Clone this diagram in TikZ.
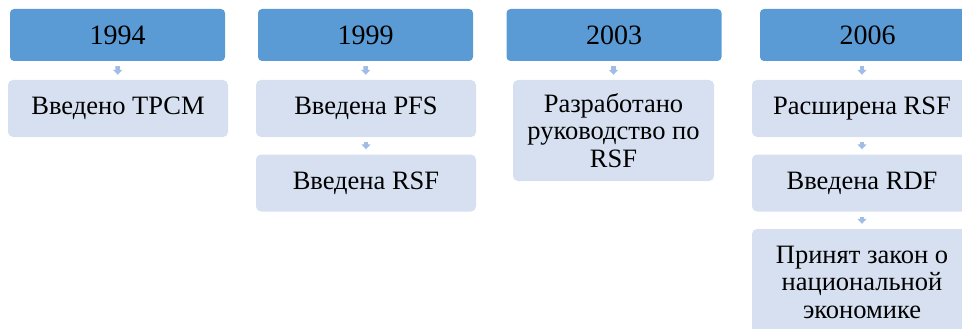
\documentclass[tikz,border=0pt]{standalone}
\usepackage{fontspec}
\setmainfont{Liberation Serif}
\usetikzlibrary{arrows.meta,calc}
\definecolor{yearblue}{HTML}{5B9BD5}
\definecolor{itemblue}{HTML}{D6E0F0}
\definecolor{tipblue}{HTML}{9FBDE6}
\tikzset{x=1pt, y=-1pt,
  year/.style = {draw=none, fill=yearblue, rounded corners=4pt,
    minimum width=215pt, minimum height=52pt, inner sep=0pt,
    font=\fontsize{28}{27}\selectfont},
  item/.style = {draw=none, fill=itemblue, rounded corners=5pt,
    minimum width=220pt, minimum height=57pt, inner sep=0pt,
    align=center, font=\fontsize{26.5}{27.5}\selectfont},
  down/.style = {draw=tipblue, line width=4.5pt,
    -{Triangle[width=9pt,length=5pt]}, shorten <=5pt, shorten >=5pt}}

\begin{document}
\begin{tikzpicture}
    \clip (0,0) rectangle (962,329);
    % years
    \node[year] (y1) at (117.5,35) {1994};
    \node[year] (y2) at (365.5,35) {1999};
    \node[year] (y3) at (614,35) {2003};
    \node[year] (y4) at (867.5,35) {2006};
    % events
    \node[item] (e1) at (118,108.5) {Введено ТРСМ};
    \node[item] (e2) at (366,108.5) {Введена PFS};
    \node[item] (e3) at (366,183) {Введена RSF};
    \node[item, minimum width=201pt, minimum height=101pt] (e4) at (613.5,130.5)
        {Разработано\\руководство по\\RSF};
    \node[item] (e5) at (862,108.5) {Расширена RSF};
    \node[item] (e6) at (862,183) {Введена RDF};
    \node[item, minimum height=106pt] (e7) at (862,282)
        {Принят закон о\\национальной\\экономике};
    % arrows
    \draw[down] (y1) -- (e1);
    \draw[down] (y2) -- (e2);
    \draw[down] (e2) -- (e3);
    \draw[down] (y3.south -| e4.north) -- (e4.north);
    \draw[down] (y4.south -| e5.north) -- (e5.north);
    \draw[down] (e5) -- (e6);
    \draw[down] (e6) -- (e7);
\end{tikzpicture}
\end{document}
